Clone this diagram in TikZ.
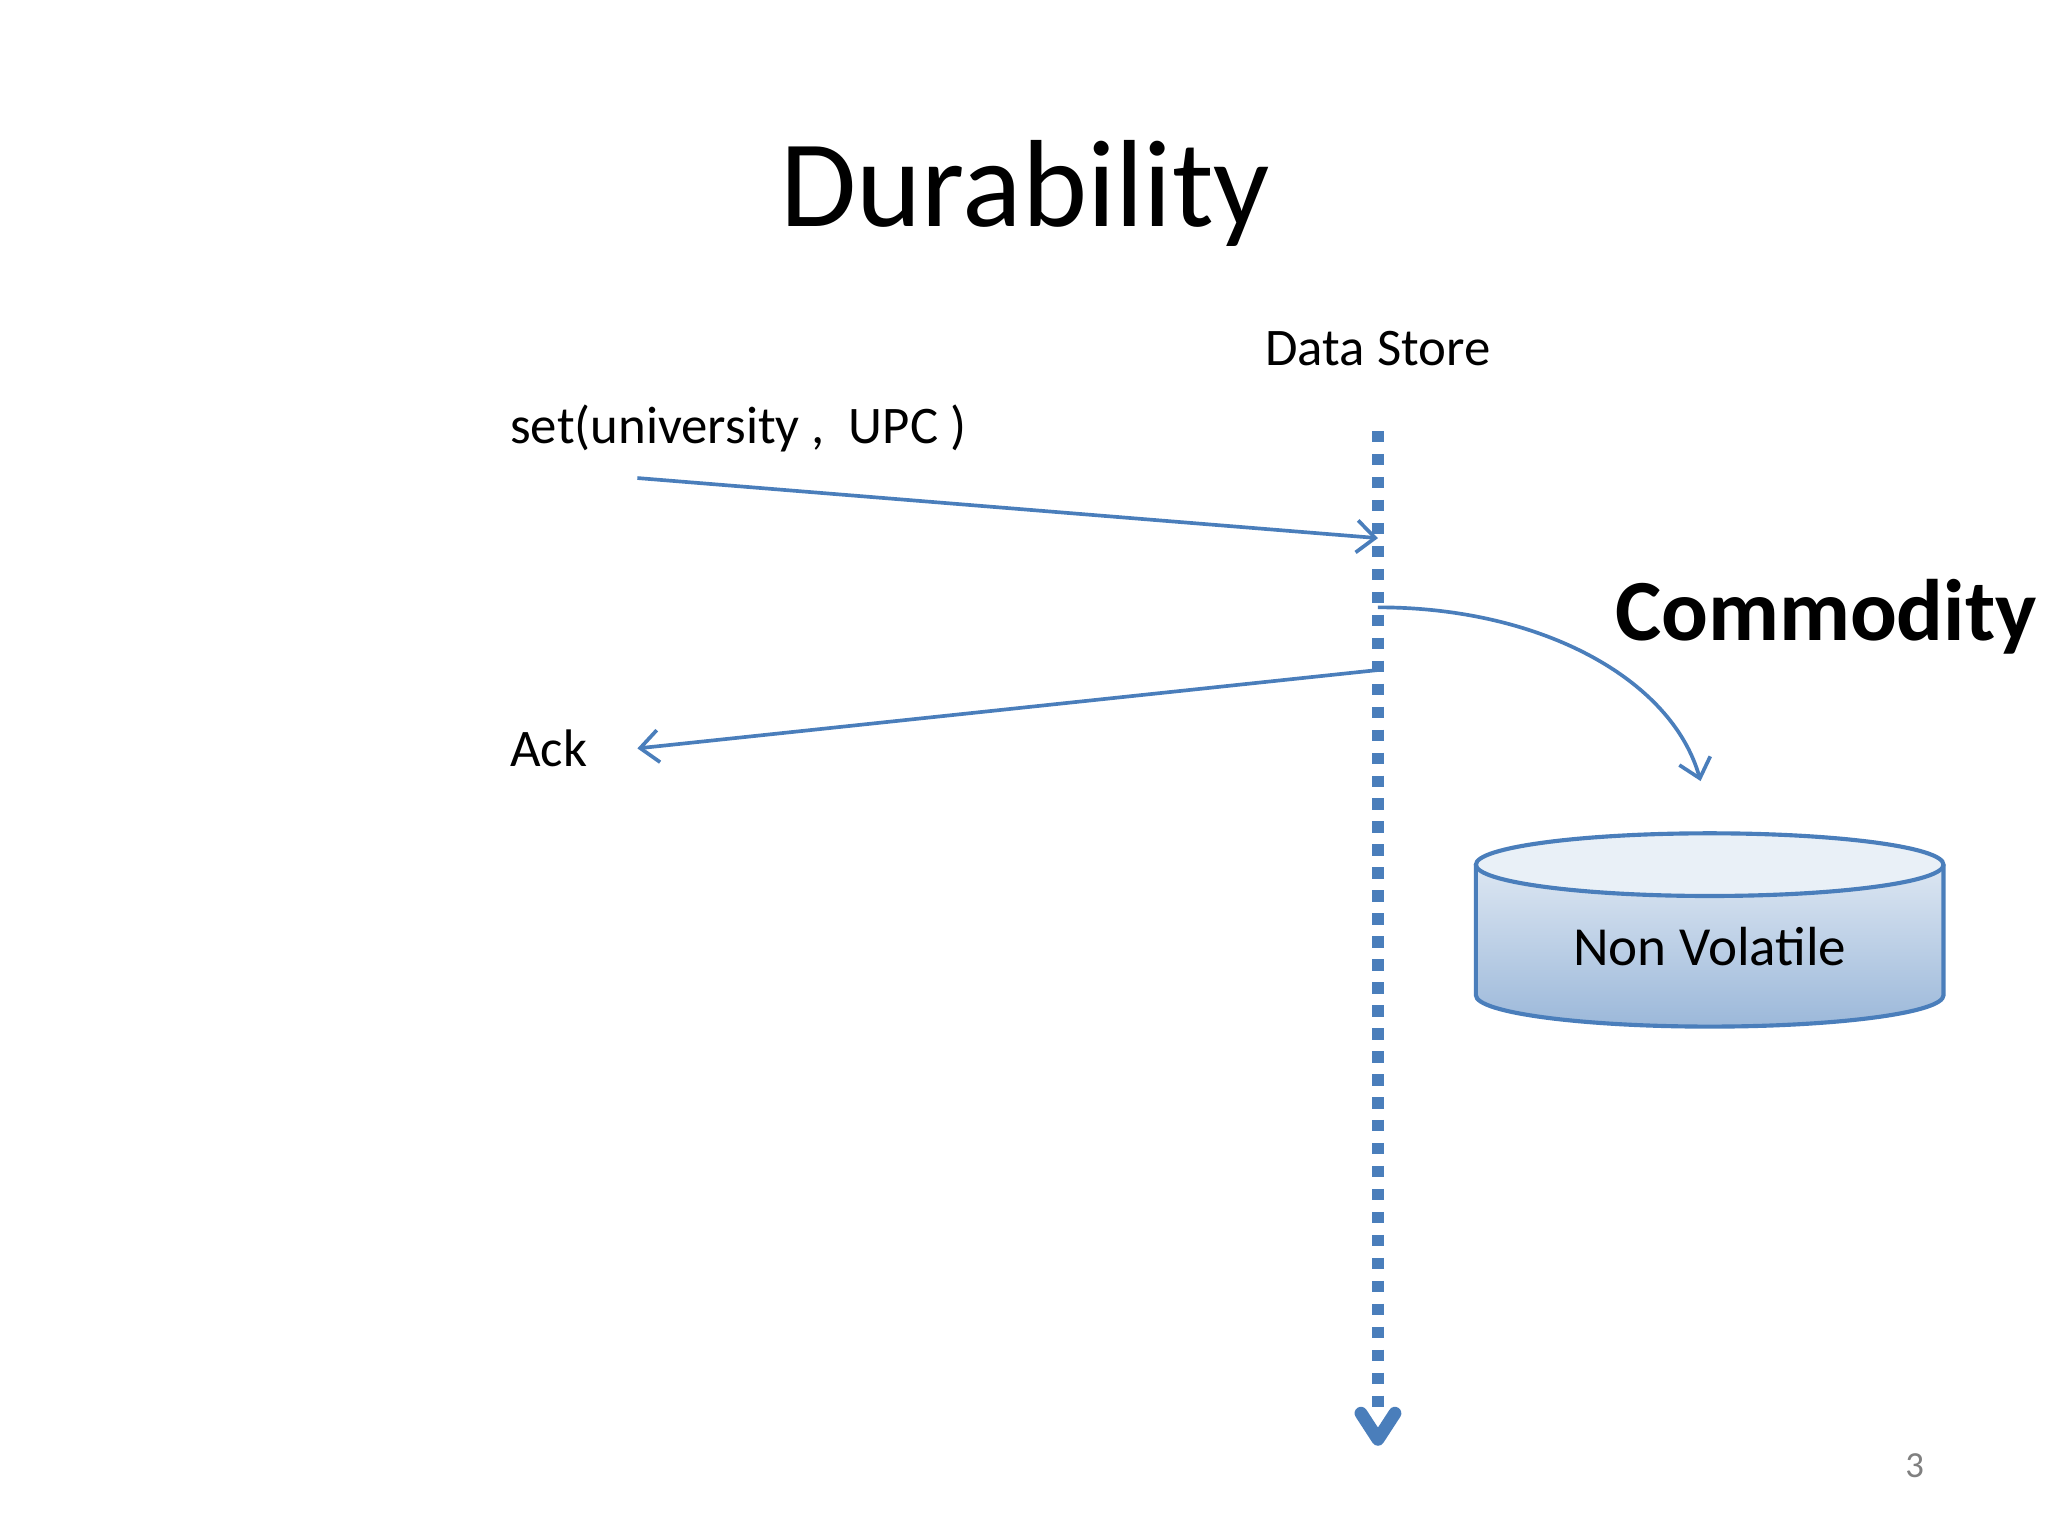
\documentclass[tikz,border=0pt]{standalone}
\usepackage{fontspec}
\setmainfont{Carlito}
\usetikzlibrary{arrows.meta,shapes.geometric}
\definecolor{ln}{RGB}{74,126,187}
\begin{document}
\begin{tikzpicture}[x=0.01cm,y=-0.01cm,
  msg/.style={draw=ln,line width=0.8pt,-{Straight Barb[length=4pt,width=7pt]}},
  lbl/.style={font=\fontsize{11.5}{14}\selectfont,inner sep=0pt}]
\fill[white] (0,0) rectangle (1568,1176);
\useasboundingbox (0,0) rectangle (1568,1176);
\node[inner sep=0pt,font=\fontsize{27}{32}\selectfont] (title) at (785,148) {Durability};
\node[lbl] (ds) at (1055,267) {Data Store};
\node[lbl,anchor=west] (set) at (390,328) {set(university ,\ \ UPC )};
\node[lbl,anchor=west] (ack) at (390,573) {Ack};
\coordinate (top) at (1055,330);
\coordinate (bot) at (1055,1102);
\draw[ln,line width=2.8pt,dash pattern=on 2.5pt off 2.5pt] (top) -- (1055,1085);
\coordinate (tipa) at (1042,1082);
\coordinate (tipb) at (1068,1082);
\draw[ln,line width=2.8pt,line cap=round,line join=round] (tipa) -- (bot) -- (tipb);
\coordinate (s0) at (488,366);
\coordinate (s1) at (1055,412);
\draw[msg] (s0) -- (s1);
\coordinate (a0) at (1055,513);
\coordinate (a1) at (488,573);
\draw[msg] (a0) -- (a1);
\coordinate (c0) at (1055,465);
\coordinate (c1) at (1302,598);
\draw[msg] (c0) .. controls (1180,465) and (1280,520) .. (c1);
\node[inner sep=0pt,font=\fontsize{19}{22}\selectfont\bfseries] (comm) at (1398,472) {Commodity};
% cylinder
\shade[top color=ln!12,bottom color=ln!55] (1130,662) -- (1130,762) arc[start angle=180,end angle=0,x radius=179,y radius=24] -- (1488,662) arc[start angle=0,end angle=-180,x radius=179,y radius=24] -- cycle;
\draw[ln,line width=0.9pt] (1130,662) -- (1130,762) arc[start angle=180,end angle=0,x radius=179,y radius=24] -- (1488,662);
\draw[ln,line width=0.9pt,fill=ln!12] (1309,662) ellipse[x radius=179,y radius=24];
\node[lbl,font=\fontsize{12}{14}\selectfont] (nv) at (1309,725) {Non Volatile};
\node[inner sep=0pt,text=gray,font=\fontsize{8}{10}\selectfont] (pg) at (1466,1122) {3};
\end{tikzpicture}
\end{document}
